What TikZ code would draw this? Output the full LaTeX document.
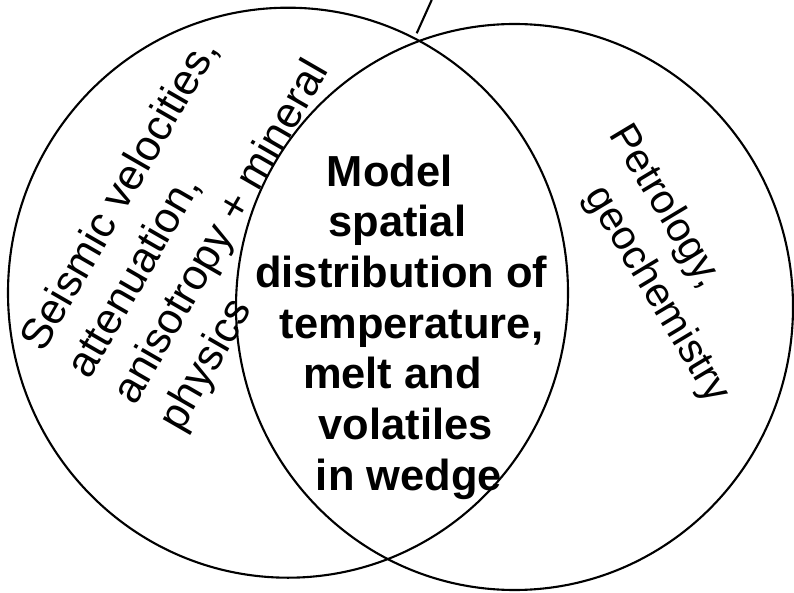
\documentclass[tikz,border=0pt]{standalone}
\usepackage{fontspec}
\setmainfont{Liberation Sans}
\usetikzlibrary{shapes.geometric}

\begin{document}
\begin{tikzpicture}[line width=1.5pt]
        \useasboundingbox (0,0) rectangle (19.85,14.8);

        \node[draw, ellipse, minimum width=14cm, minimum height=14.25cm, inner sep=0pt] (seismo) at (7.2,7.4825) {};
        \node[draw, ellipse, minimum width=13.925cm, minimum height=14.15cm, inner sep=0pt] (petro) at (12.8625,7.125) {};

        \node[rotate=60, anchor=north west, align=left, inner sep=0pt, font=\fontsize{30.6}{37.7}\selectfont] (seismolabel) at (0.3725,6.339) {Seismic velocities,\\attenuation,\\anisotropy + mineral\\physics};
        \node[rotate=-59, anchor=north west, align=left, inner sep=0pt, font=\fontsize{29.2}{37}\selectfont] (petrolabel) at (15.86,11.86) {Petrology,\\\hspace*{28.5pt}geochemistry};
        \node[anchor=north west, align=left, inner sep=0pt, font=\bfseries\fontsize{30.9}{36.06}\selectfont] (model) at (6.3575,10.9625) {\hspace*{50.9pt}Model\\\hspace*{52.1pt}spatial\\distribution of\\\hspace*{17.5pt}temperature,\\\hspace*{33.9pt}melt and\\\hspace*{45pt}volatiles\\\hspace*{43.1pt}in wedge};

        \coordinate (tickfoot) at (10.4175,13.9675);
        \coordinate (tickhead) at (10.7925,14.8);
        \draw (tickfoot) -- (tickhead);
\end{tikzpicture}
\end{document}
